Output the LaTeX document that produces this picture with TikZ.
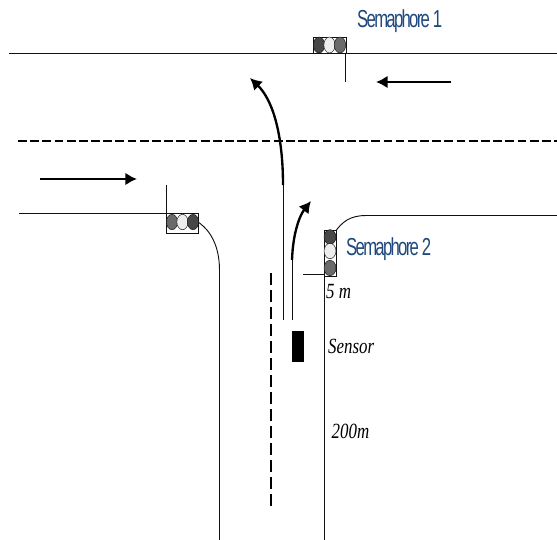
\documentclass[tikz,border=0pt]{standalone}
\usepackage{fontspec}
\setmainfont{Liberation Serif}
\newfontfamily\signfont[LetterSpace=-7,FakeStretch=0.68]{Liberation Sans}
\newfontfamily\notefont[FakeStretch=0.78]{Liberation Serif}
\usepackage{xcolor}
\usepackage{tikz}
\usetikzlibrary{arrows.meta,positioning,shapes.geometric}
\definecolor{ink}{HTML}{111111}
\definecolor{signblue}{HTML}{1F497D}
\definecolor{lampdark}{HTML}{474747}
\definecolor{lampmid}{HTML}{6A6A6A}
\definecolor{lamplight}{HTML}{EDEDED}
\begin{document}
\begin{tikzpicture}[x=0.3mm,y=-0.3mm,
  road/.style={draw=ink,line width=0.8pt},
  flow/.style={draw=black,line width=2pt,-{Latex[length=10pt,width=11pt]}},
  lane/.style={draw=black,line width=1.6pt,dash pattern=on 7.5pt off 2.9pt},
  housing/.style={draw=ink,fill=white,line width=0.7pt,inner sep=0pt},
  lamp/.style={draw=ink,line width=0.4pt,ellipse,inner sep=0pt,minimum width=3.4mm,minimum height=4.8mm},
  sign/.style={font=\signfont\fontsize{21}{23}\selectfont\color{signblue},anchor=base west,inner sep=0pt},
  note/.style={font=\notefont\fontsize{18.5}{20}\selectfont\itshape,anchor=base west,inner sep=0pt}
]
  \useasboundingbox (0,0) rectangle (557,540);
  % road edges
  \draw[road] (9,53) -- (557,53);
  \draw[road] (19,213.5) -- (166,213.5) .. controls (205,213.5) and (219.5,240) .. (219.5,270) -- (219.5,540);
  \draw[road] (557,215.5) -- (366,215.5) .. controls (350,215.5) and (342,222) .. (335,232);
  \draw[road] (324.5,232) -- (324.5,540);
  % posts
  \coordinate (post1) at (345,82);
  \coordinate (post2) at (166,185);
  \coordinate (post3) at (303,274);
  \draw[road] (345,53) -- (post1);
  \draw[road] (166,213) -- (post2);
  \draw[road] (324,274) -- (post3);
  % lane marks
  \coordinate (midw) at (18,141);
  \coordinate (mide) at (557,141);
  \coordinate (lanen) at (271,273);
  \coordinate (lanes) at (271,507);
  \draw[lane] (midw) -- (mide);
  \draw[lane,line width=1.2pt,dash pattern=on 10pt off 4.54pt] (lanen) -- (lanes);
  % semaphores
  \node[housing,minimum width=9.9mm,minimum height=4.8mm] (sem1) at (329.5,45) {};
  \node[housing,minimum width=9.6mm,minimum height=6mm] (sem2) at (182,223) {};
  \node[housing,minimum width=3.6mm,minimum height=13.8mm] (sem3) at (330,253) {};
  \node[lamp,fill=lampdark] (s1a) at (319,45) {};
  \node[lamp,fill=lamplight] (s1b) at (329.5,45) {};
  \node[lamp,fill=lampmid] (s1c) at (340,45) {};
  \node[lamp,fill=lampmid,minimum height=4.6mm] (s2a) at (172,222) {};
  \node[lamp,fill=lamplight,minimum height=4.6mm] (s2b) at (182.5,222) {};
  \node[lamp,fill=lampdark,minimum height=4.6mm] (s2c) at (193,222) {};
  \node[lamp,fill=lampdark,minimum width=3.6mm,minimum height=4.4mm] (s3a) at (330,237) {};
  \node[lamp,fill=lamplight,minimum width=3.6mm,minimum height=4.6mm] (s3b) at (330,251) {};
  \node[lamp,fill=lampmid,minimum width=3.6mm,minimum height=4.6mm] (s3c) at (330,268) {};
  % traffic
  \coordinate (wstart) at (451,82);
  \coordinate (wend) at (376,82);
  \coordinate (estart) at (40,179);
  \coordinate (eend) at (137,179);
  \coordinate (turna) at (283,320);
  \coordinate (turnb) at (283,185);
  \coordinate (turnc) at (250,78);
  \coordinate (rightb) at (292,320);
  \coordinate (rightc) at (292,260);
  \coordinate (rightd) at (311,201);
  \draw[flow] (wstart) -- (wend);
  \draw[flow] (estart) -- (eend);
  \draw[road] (turna) -- (turnb);
  \draw[flow] (turnb) .. controls (283,135) and (273,100) .. (turnc);
  \draw[road] (rightb) -- (rightc);
  \draw[flow] (rightc) .. controls (293,232) and (300,215) .. (rightd);
  % sensor and labels
  \node[fill=black,inner sep=0pt,minimum width=3.6mm,minimum height=9.3mm] (sensor) at (298,346.5) {};
  \node[sign] (lab1) at (357,27.5) {Semaphore 1};
  \node[sign] (lab2) at (346,255) {Semaphore 2};
  \node[note] (dist5) at (326,298) {5 m};
  \node[note] (labs) at (328,353) {Sensor};
  \node[note] (dist200) at (331.5,438) {200m};
\end{tikzpicture}
\end{document}
